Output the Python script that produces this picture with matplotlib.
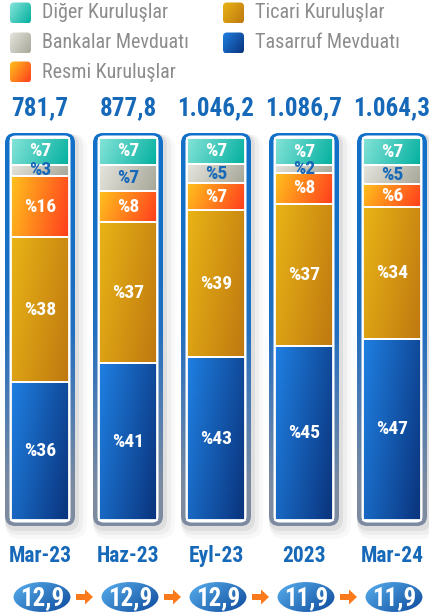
import matplotlib
matplotlib.use('Agg')
import matplotlib.pyplot as plt
import numpy as np
from matplotlib.patches import FancyBboxPatch, Ellipse, FancyArrow
from matplotlib import font_manager as fm
from matplotlib.font_manager import FontProperties
from matplotlib.colors import to_rgb

# ---------------- data ----------------
categories = ['Mar-23', 'Haz-23', 'Eyl-23', '2023', 'Mar-24']
totals = ['781,7', '877,8', '1.046,2', '1.086,7', '1.064,3']
ratios = ['12,9', '12,9', '12,9', '11,9', '11,9']
series_names = ['Diğer Kuruluşlar', 'Bankalar Mevduatı', 'Resmi Kuruluşlar',
                'Ticari Kuruluşlar', 'Tasarruf Mevduatı']
diger = [7, 7, 7, 7, 7]
bankalar = [3, 7, 5, 2, 5]
resmi = [16, 8, 7, 8, 6]
ticari = [38, 37, 39, 37, 34]
tasarruf = [36, 41, 43, 45, 47]

# ---------------- fonts ----------------
def find_cond(bold):
    best = None
    for f in fm.fontManager.ttflist:
        fn = f.fname.lower()
        if not ('condensed' in fn or 'narrow' in fn):
            continue
        if 'italic' in fn or 'oblique' in fn:
            continue
        isbold = ('bold' in fn) and ('semibold' not in fn) and ('extrabold' not in fn)
        if isbold != bold:
            continue
        if not bold and any(k in fn for k in ['light', 'thin', 'medium', 'black', 'semi']):
            continue
        rank = 10
        for r, key in enumerate(['robotocondensed', 'roboto_condensed', 'libera', 'opensans', 'dejavu']):
            if key in fn.replace('-', '').replace(' ', ''):
                rank = r
                break
        if best is None or rank < best[0]:
            best = (rank, f.fname)
    return best[1] if best else None

fb = find_cond(True)
fr_ = find_cond(False)
COND = fb is not None
if COND:
    FP_B = FontProperties(fname=fb)
    FP_R = FontProperties(fname=fr_) if fr_ else FontProperties(fname=fb)
    s_tot, s_cat, s_lab, s_ell, s_leg = 18, 15.5, 14, 18, 14.5
else:
    FP_B = FontProperties(family='Roboto', weight='bold')
    FP_R = FontProperties(family='Roboto')
    s_tot, s_cat, s_lab, s_ell, s_leg = 16, 13.5, 12.5, 15, 12.5


def fp(base, size):
    p = base.copy()
    p.set_size(size)
    return p


BLUE_TXT = '#1668b8'
grad_cols = {
    'Diğer Kuruluşlar': ('#86e4d9', '#03b09f'),
    'Bankalar Mevduatı': ('#e6e6df', '#a6a698'),
    'Resmi Kuruluşlar': ('#ffc21c', '#ff3d1e'),
    'Ticari Kuruluşlar': ('#e9b416', '#bf7810'),
    'Tasarruf Mevduatı': ('#1f80e2', '#0a337c'),
}
label_cols = {'Bankalar Mevduatı': BLUE_TXT}


def grad_img(c1, c2, wx=0.65, wy=0.35, n=64):
    a = np.array(to_rgb(c1)); b = np.array(to_rgb(c2))
    xx, yy = np.meshgrid(np.linspace(0, 1, n), np.linspace(0, 1, n))
    t = wx * xx + wy * (1 - yy)
    t = (t - t.min()) / (t.max() - t.min())
    return a * (1 - t)[..., None] + b * t[..., None]


def fill_grad(ax, patch, extent, c1, c2, z, wx=0.65, wy=0.35):
    im = ax.imshow(grad_img(c1, c2, wx, wy), origin='lower', extent=extent,
                   aspect='auto', interpolation='bilinear', zorder=z)
    im.set_clip_path(patch)
    return im


W, H = 429, 613
fig = plt.figure(figsize=(W / 100, H / 100), dpi=100)
fig.patch.set_facecolor('white')

# bar axes: value 100 at y=138 px, value 0 at y=520 px
top_px, bot_px = 138, 520
ax_top, ax_bot = 120, 540
pitch = 88.0
x0px = 40.0
px_x = 1 / pitch
px_y = 100 / (bot_px - top_px)
asp = px_y / px_x
ax = fig.add_axes([0, 1 - ax_bot / H, 1, (ax_bot - ax_top) / H])
XL = (-x0px / pitch, (W - x0px) / pitch)
YL = (-(ax_bot - bot_px) * px_y, 100 + (top_px - ax_top) * px_y)
ax.axis('off')

x = np.arange(len(categories))
stack_order = [('Tasarruf Mevduatı', tasarruf), ('Ticari Kuruluşlar', ticari),
               ('Resmi Kuruluşlar', resmi), ('Bankalar Mevduatı', bankalar),
               ('Diğer Kuruluşlar', diger)]
col_sum = np.sum([np.array(v, float) for _, v in stack_order], axis=0)

# frames + shadows
for i in x:
    for dx, dy, grow, al in [(6, -7, 6, 0.04), (4, -5, 4, 0.06), (2, -3, 2, 0.10)]:
        sh = FancyBboxPatch((i - (35 + grow - dx) * px_x, (-6 - grow + dy) * px_y),
                            (70 + 2 * grow) * px_x, (393 + 2 * grow) * px_y,
                            boxstyle=f"round,pad=0,rounding_size={(10 + grow) * px_x}",
                            mutation_aspect=asp, facecolor='#555555', edgecolor='none',
                            alpha=al, zorder=0.5)
        ax.add_patch(sh)
    frm = FancyBboxPatch((i - 35 * px_x, -6 * px_y), 70 * px_x, 393 * px_y,
                         boxstyle=f"round,pad=0,rounding_size={10 * px_x}",
                         mutation_aspect=asp, facecolor='none', edgecolor='none',
                         zorder=1)
    ax.add_patch(frm)
    fcols = np.array([[to_rgb('#7d8ba0')], [to_rgb('#4f7cb2')], [to_rgb('#226fc0')],
                      [to_rgb('#1670c6')], [to_rgb('#1270c8')]])
    im = ax.imshow(fcols, origin='lower',
                   extent=[i - 36 * px_x, i + 36 * px_x, -7 * px_y, 100 + 7 * px_y],
                   aspect='auto', interpolation='bilinear', zorder=1)
    im.set_clip_path(frm)
    inner = FancyBboxPatch((i - 30.5 * px_x, -2.5 * px_y), 61 * px_x, 387 * px_y,
                           boxstyle=f"round,pad=0,rounding_size={6 * px_x}",
                           mutation_aspect=asp, facecolor='white', edgecolor='none',
                           zorder=2)
    ax.add_patch(inner)

# stacked bars
bottom = np.zeros(len(x))
bw = 58 * px_x
for name, vals in stack_order:
    v = np.array(vals, float) / col_sum * 100
    bars = ax.bar(x, v, bottom=bottom, width=bw, facecolor='none',
                  edgecolor='white', linewidth=1.3, zorder=4)
    c1, c2 = grad_cols[name]
    for rect in bars:
        xr, yr = rect.get_x(), rect.get_y()
        fill_grad(ax, rect, [xr, xr + rect.get_width(), yr, yr + rect.get_height()],
                  c1, c2, 3, 0.7, 0.3 if rect.get_height() > 20 else 0.15)
    for xi, b, vi, raw in zip(x, bottom, v, vals):
        ax.text(xi, b + vi / 2, f'%{raw}', ha='center', va='center',
                color=label_cols.get(name, 'white'), fontproperties=fp(FP_B, s_lab),
                zorder=6)
    bottom = bottom + v
ax.set_xlim(*XL)
ax.set_ylim(*YL)

# totals & categories
for xi, t, c in zip(x, totals, categories):
    ax.annotate(t, xy=(xi, 100), xytext=(0, 21.5), textcoords='offset points',
                ha='center', va='center', fontproperties=fp(FP_B, s_tot),
                color=BLUE_TXT, annotation_clip=False)
    ax.annotate(c, xy=(xi, 0), xytext=(0, -26), textcoords='offset points',
                ha='center', va='center', fontproperties=fp(FP_B, s_cat),
                color=BLUE_TXT, annotation_clip=False)

# bottom row: ellipses and arrows
ax2 = fig.add_axes([0, 0, 1, 32 / H])
ax2.set_xlim(*XL)
ax2.set_ylim(0, 1)
ax2.axis('off')
for xi, r in zip(x, ratios):
    e = Ellipse((xi + 2 * px_x, 0.5), 59 * px_x, 1.0, facecolor='none',
                edgecolor='white', linewidth=1.5, zorder=4, clip_on=False)
    ax2.add_patch(e)
    fill_grad(ax2, e, [xi - 30 * px_x, xi + 34 * px_x, 0, 1], '#5cb4f2', '#0a4698', 3, 0.6, 0.4)
    ax2.text(xi + 2 * px_x, 0.47, r, ha='center', va='center', color='white',
             fontproperties=fp(FP_B, s_ell), zorder=5)
for xi in x[:-1]:
    ar = FancyArrow(xi + 0.5 - 8 * px_x, 0.5, 17 * px_x, 0, width=6 / 32,
                    head_width=15 / 32, head_length=8 * px_x,
                    length_includes_head=True, facecolor='#fb7a1c',
                    edgecolor='none', zorder=3)
    ax2.add_patch(ar)
ax2.set_xlim(*XL)
ax2.set_ylim(0, 1)

# legend (manual, pixel overlay)
axl = fig.add_axes([0, 0, 1, 1], zorder=10)
axl.axis('off')
leg_pos = {
    'Diğer Kuruluşlar': (10, 13), 'Bankalar Mevduatı': (10, 43),
    'Resmi Kuruluşlar': (10, 72), 'Ticari Kuruluşlar': (223, 13),
    'Tasarruf Mevduatı': (223, 43),
}
for name in series_names:
    lx, ly = leg_pos[name]
    yb = H - ly
    sq = FancyBboxPatch((lx, yb - 10.5), 21, 21,
                        boxstyle="round,pad=0,rounding_size=4",
                        facecolor='none', edgecolor='none', zorder=2)
    axl.add_patch(sq)
    c1, c2 = grad_cols[name]
    fill_grad(axl, sq, [lx, lx + 21, yb - 10.5, yb + 10.5], c1, c2, 1, 0.6, 0.4)
    axl.text(lx + 32, yb, name, ha='left', va='center',
             fontproperties=fp(FP_R, s_leg), color='#8c8c8c')
axl.set_xlim(0, W)
axl.set_ylim(0, H)

fig.savefig('out.png', dpi=100, facecolor='white')
